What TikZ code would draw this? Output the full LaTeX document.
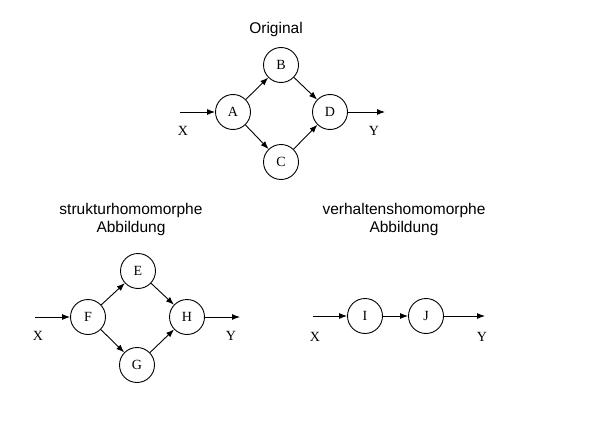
\documentclass[tikz,border=0pt]{standalone}
\usepackage{fontspec}
\setmainfont{Liberation Serif}
\newfontfamily\headfont{Liberation Sans}
\usepackage{tikz}
\usetikzlibrary{arrows.meta}

\begin{document}
\begin{tikzpicture}[x=1pt,y=-1pt,
  state/.style={draw,circle,minimum size=35pt,inner sep=0pt,line width=0.9pt,font=\fontsize{14}{16}\selectfont},
  flow/.style={-{Latex[length=8pt,width=6pt]},line width=0.9pt},
  heading/.style={align=center,inner sep=0pt,font=\headfont\fontsize{15.5}{18}\selectfont},
  sig/.style={inner sep=0pt,font=\fontsize{14}{16}\selectfont}]
\useasboundingbox (0,0) rectangle (600,444);
% Original
\node[heading] (orig) at (276,29) {Original};
\node[state] (A) at (233,112) {A};
\node[state] (B) at (281,65) {B};
\node[state] (C) at (281,162) {C};
\node[state] (D) at (330,112) {D};
\coordinate (inA) at (180,112);
\coordinate (outD) at (385,112);
\node[sig] (xA) at (183,131) {X};
\node[sig] (yD) at (374,131) {Y};
\draw[flow] (inA) -- (A);
\draw[flow] (A) -- (B);
\draw[flow] (A) -- (C);
\draw[flow] (B) -- (D);
\draw[flow] (C) -- (D);
\draw[flow] (D) -- (outD);
% strukturhomomorph
\node[heading] (struk) at (131,219) {strukturhomomorphe\\Abbildung};
\node[state] (F) at (88,317) {F};
\node[state] (E) at (138,271) {E};
\node[state] (G) at (137,365) {G};
\node[state] (H) at (187,317) {H};
\coordinate (inF) at (35,317);
\coordinate (outH) at (240,317);
\node[sig] (xF) at (38,336) {X};
\node[sig] (yH) at (231,336) {Y};
\draw[flow] (inF) -- (F);
\draw[flow] (F) -- (E);
\draw[flow] (F) -- (G);
\draw[flow] (E) -- (H);
\draw[flow] (G) -- (H);
\draw[flow] (H) -- (outH);
% verhaltenshomomorph
\node[heading] (verh) at (404,219) {verhaltenshomomorphe\\Abbildung};
\node[state] (I) at (365,316) {I};
\node[state] (J) at (426,316) {J};
\coordinate (inI) at (313,316);
\coordinate (outJ) at (485,316);
\node[sig] (xI) at (315,337) {X};
\node[sig] (yJ) at (482,337) {Y};
\draw[flow] (inI) -- (I);
\draw[flow] (I) -- (J);
\draw[flow] (J) -- (outJ);
\end{tikzpicture}
\end{document}
